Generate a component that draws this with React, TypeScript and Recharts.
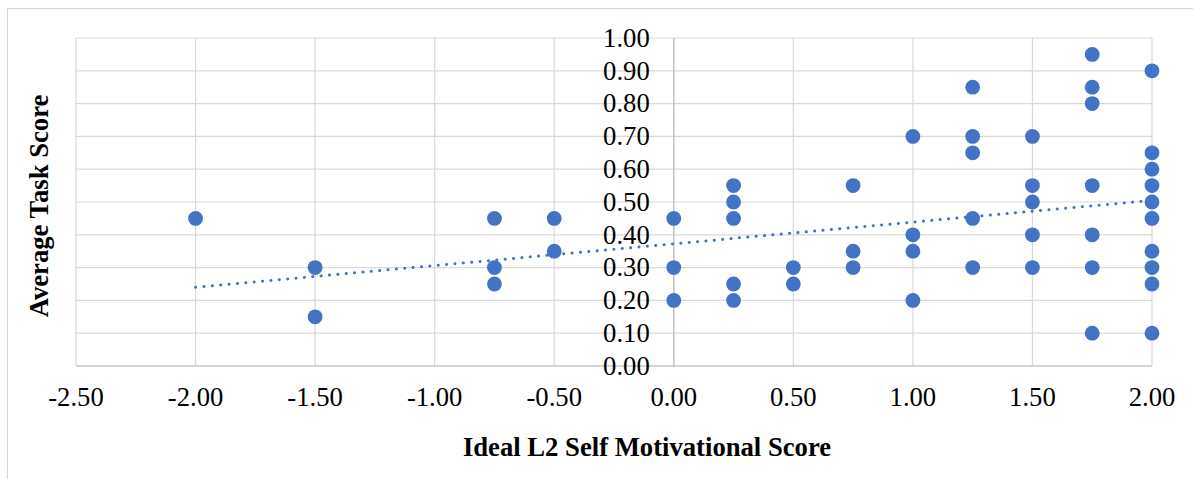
import React from 'react';
import { ScatterChart, Scatter, XAxis, YAxis, CartesianGrid, ReferenceLine } from 'recharts';

// x levels of the Ideal L2 Self score and the task scores seen at each level
const xLevels = [-2, -1.5, -0.75, -0.5, 0, 0.25, 0.5, 0.75, 1, 1.25, 1.5, 1.75, 2];
const scoresByLevel = [
  [0.45],
  [0.3, 0.15],
  [0.45, 0.3, 0.25],
  [0.45, 0.35],
  [0.45, 0.3, 0.2],
  [0.55, 0.5, 0.45, 0.25, 0.2],
  [0.3, 0.25],
  [0.55, 0.35, 0.3],
  [0.7, 0.4, 0.35, 0.2],
  [0.85, 0.7, 0.65, 0.45, 0.3],
  [0.7, 0.55, 0.5, 0.4, 0.3],
  [0.95, 0.85, 0.8, 0.55, 0.4, 0.3, 0.1],
  [0.9, 0.65, 0.6, 0.55, 0.5, 0.45, 0.35, 0.3, 0.25, 0.1],
];

// linear trendline end points
const trendX = [-2, 2];
const trendY = [0.24, 0.505];

const xTicks = [-2.5, -2, -1.5, -1, -0.5, 0, 0.5, 1, 1.5, 2];
const yTicks = [0, 0.1, 0.2, 0.3, 0.4, 0.5, 0.6, 0.7, 0.8, 0.9, 1];

const points = xLevels.flatMap((x, i) => scoresByLevel[i].map((y) => ({ x, y })));
const trend = trendX.map((x, i) => ({ x, y: trendY[i] }));
const yLabels = yTicks.map((y) => ({ x: 0, y }));

const FONT = '"Liberation Serif", "Times New Roman", serif';
const BLUE = '#4472C4';

const Dot = (props: any) => <circle cx={props.cx} cy={props.cy} r={7.4} fill={BLUE} />;

// y tick labels sit next to the vertical axis at x = 0
const YTickText = (props: any) => (
  <text
    x={props.cx - 24}
    y={props.cy}
    dy="0.33em"
    textAnchor="end"
    fontFamily={FONT}
    fontSize={26.67}
    fill="#000"
  >
    {props.payload.y.toFixed(2)}
  </text>
);

export default function App() {
  return (
    <div
      style={{
        position: 'absolute',
        left: 7,
        top: 8,
        width: 1186,
        height: 471,
        borderTop: '1px solid #d4d4d4',
        borderLeft: '1px solid #d4d4d4',
        boxSizing: 'border-box',
      }}
    >
      <ScatterChart width={1185} height={470} margin={{ top: 29, right: 41, bottom: 0, left: 0 }}>
        <CartesianGrid stroke="#d9d9d9" strokeWidth={1.2} />
        <XAxis
          type="number"
          dataKey="x"
          domain={[-2.5, 2]}
          ticks={xTicks}
          interval={0}
          height={113}
          tickSize={0}
          tickMargin={21}
          tickFormatter={(v: number) => v.toFixed(2)}
          tick={{ fontFamily: FONT, fontSize: 26.67, fill: '#000' }}
          axisLine={{ stroke: '#bfbfbf', strokeWidth: 1.2 }}
          tickLine={false}
          label={{
            value: 'Ideal L2 Self Motivational Score',
            position: 'insideBottom',
            offset: 23,
            dx: 33,
            style: { fontFamily: FONT, fontSize: 26.67, fontWeight: 'bold', fill: '#000' },
          }}
        />
        <YAxis
          type="number"
          dataKey="y"
          domain={[0, 1]}
          ticks={yTicks}
          interval={0}
          width={68}
          tick={() => <g />}
          axisLine={false}
          tickLine={false}
          label={{
            value: 'Average Task Score',
            angle: -90,
            position: 'center',
            dx: -3,
            dy: 4,
            style: { fontFamily: FONT, fontSize: 26.67, fontWeight: 'bold', fill: '#000' },
          }}
        />
        <ReferenceLine x={0} stroke="#bfbfbf" strokeWidth={1.2} />
        <Scatter data={yLabels} shape={YTickText} isAnimationActive={false} />
        <Scatter
          data={trend}
          line={{ stroke: BLUE, strokeWidth: 3, strokeDasharray: '0.1 8.3', strokeLinecap: 'round' }}
          shape={() => <g />}
          isAnimationActive={false}
        />
        <Scatter data={points} shape={Dot} isAnimationActive={false} />
      </ScatterChart>
    </div>
  );
}
